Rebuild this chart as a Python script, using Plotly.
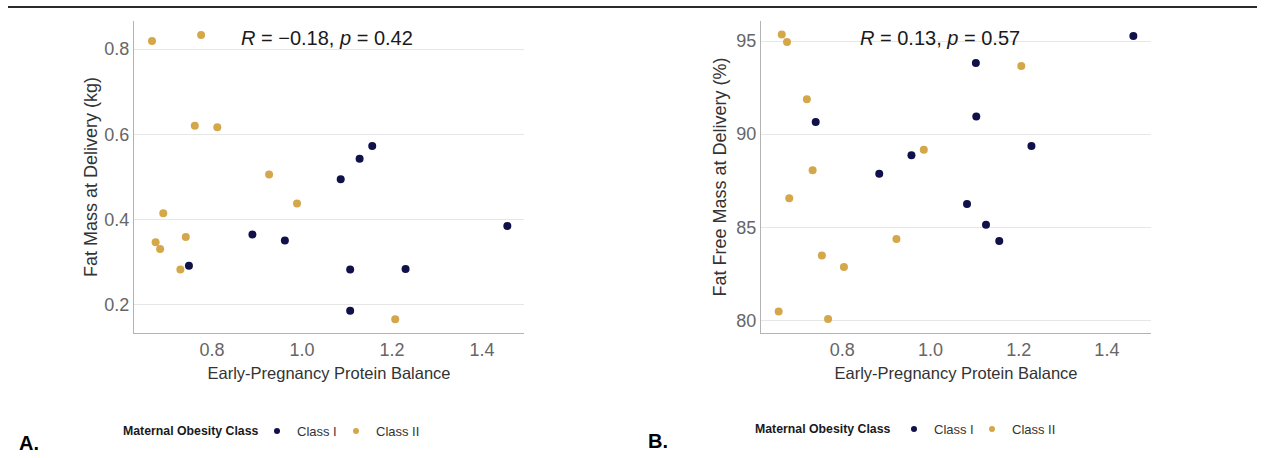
import plotly.graph_objects as go

# ---------------- data ----------------
# Panel A: Fat Mass at Delivery (kg)
a_class1_x = [1.086, 1.128, 1.156, 0.749, 0.890, 0.962, 1.107, 1.230, 1.107, 1.456]
a_class1_y = [0.495, 0.543, 0.573, 0.292, 0.365, 0.351, 0.283, 0.284, 0.186, 0.385]
a_class2_x = [0.667, 0.776, 0.762, 0.812, 0.927, 0.989, 0.692, 0.675, 0.685, 0.742, 0.730, 1.207]
a_class2_y = [0.819, 0.833, 0.620, 0.617, 0.506, 0.438, 0.415, 0.347, 0.331, 0.359, 0.283, 0.166]

# Panel B: Fat Free Mass at Delivery (%)
b_class1_x = [1.460, 1.103, 1.104, 0.740, 1.229, 0.957, 0.884, 1.083, 1.126, 1.156]
b_class1_y = [95.27, 93.83, 90.95, 90.65, 89.37, 88.87, 87.87, 86.25, 85.14, 84.26]
b_class2_x = [0.663, 0.675, 0.720, 0.733, 0.680, 0.985, 1.206, 0.923, 0.754, 0.804, 0.656, 0.768]
b_class2_y = [95.36, 94.95, 91.87, 88.06, 86.56, 89.16, 93.66, 84.37, 83.48, 82.87, 80.47, 80.07]

x_ticks = [0.8, 1.0, 1.2, 1.4]
x_tick_labels = ["0.8", "1.0", "1.2", "1.4"]
a_y_ticks = [0.2, 0.4, 0.6, 0.8]
a_y_tick_labels = ["0.2", "0.4", "0.6", "0.8"]
b_y_ticks = [80, 85, 90, 95]
b_y_tick_labels = ["80", "85", "90", "95"]

class_names = ["Class I", "Class II"]
legend_title = "Maternal Obesity Class"
a_stat = "<i>R</i> = \u22120.18, <i>p</i> = 0.42"
b_stat = "<i>R</i> = 0.13, <i>p</i> = 0.57"

# ---------------- style ----------------
NAVY = "#10104a"
GOLD = "#d4a84a"
FONT = "Liberation Sans, Arial, sans-serif"
W, H = 1264, 458

fig = go.Figure()

def add_panel(xs1, ys1, xs2, ys2, xa, ya, leg1, leg2):
    fig.add_trace(go.Scatter(x=xs1, y=ys1, mode="markers", xaxis=xa, yaxis=ya,
                             marker=dict(color=NAVY, size=8), showlegend=False,
                             name=class_names[0]))
    fig.add_trace(go.Scatter(x=xs2, y=ys2, mode="markers", xaxis=xa, yaxis=ya,
                             marker=dict(color=GOLD, size=8), showlegend=False,
                             name=class_names[1]))
    # legend entries (smaller legend symbols)
    fig.add_trace(go.Scatter(x=[None], y=[None], mode="markers", xaxis=xa, yaxis=ya,
                             marker=dict(color=NAVY, size=6), name=class_names[0],
                             legend=leg1, showlegend=True))
    fig.add_trace(go.Scatter(x=[None], y=[None], mode="markers", xaxis=xa, yaxis=ya,
                             marker=dict(color=GOLD, size=6), name=class_names[1],
                             legend=leg2, showlegend=True))

add_panel(a_class1_x, a_class1_y, a_class2_x, a_class2_y, "x", "y", "legend", "legend3")
add_panel(b_class1_x, b_class1_y, b_class2_x, b_class2_y, "x2", "y2", "legend2", "legend4")

ydom = [1 - 333 / H, 1 - 21 / H]
axis_common = dict(showline=True, linecolor="#b3b3b3", linewidth=1.2, ticks="",
                   zeroline=False, tickfont=dict(family=FONT, size=18, color="#666666"))

legend_common = dict(orientation="h", xanchor="left", yanchor="middle",
                     font=dict(family=FONT, size=13, color="#333333"),
                     bgcolor="rgba(0,0,0,0)")

fig.update_layout(
    width=W, height=H,
    margin=dict(l=0, r=0, t=0, b=0),
    paper_bgcolor="white", plot_bgcolor="white",
    font=dict(family=FONT, color="#333333"),
    xaxis=dict(domain=[134 / W, 524 / W], range=[0.627, 1.493], anchor="y",
               tickvals=x_ticks, ticktext=x_tick_labels, showgrid=False,
               title=dict(text="Early-Pregnancy Protein Balance",
                          font=dict(size=16.5, color="#333333"), standoff=8),
               **axis_common),
    yaxis=dict(domain=ydom, range=[0.134, 0.866], anchor="x",
               tickvals=a_y_ticks, ticktext=a_y_tick_labels,
               showgrid=True, gridcolor="#e6e6e6", gridwidth=1,
               title=dict(text="Fat Mass at Delivery (kg)",
                          font=dict(size=18, color="#333333"), standoff=1),
               **axis_common),
    xaxis2=dict(domain=[761 / W, 1151 / W], range=[0.616, 1.500], anchor="y2",
                tickvals=x_ticks, ticktext=x_tick_labels, showgrid=False,
                title=dict(text="Early-Pregnancy Protein Balance",
                           font=dict(size=16.5, color="#333333"), standoff=8),
                **axis_common),
    yaxis2=dict(domain=ydom, range=[79.32, 96.08], anchor="x2",
                tickvals=b_y_ticks, ticktext=b_y_tick_labels,
                showgrid=True, gridcolor="#e6e6e6", gridwidth=1,
                title=dict(text="Fat Free Mass at Delivery (%)",
                           font=dict(size=18, color="#333333"), standoff=4),
                **axis_common),
    legend=dict(x=257 / W, y=1 - 431 / H, **legend_common),
    legend3=dict(x=336 / W, y=1 - 431 / H, **legend_common),
    legend2=dict(x=894 / W, y=1 - 429 / H, **legend_common),
    legend4=dict(x=972 / W, y=1 - 429 / H, **legend_common),
    showlegend=True,
)

# legend titles
for lx, ly in [(121, 431), (753, 429)]:
    fig.add_annotation(x=lx / W, y=1 - ly / H, xref="paper", yref="paper",
                       text="<b>" + legend_title + "</b>", showarrow=False,
                       xanchor="left", yanchor="middle",
                       font=dict(family=FONT, size=12.3, color="#1a1a1a"))

fig.add_annotation(x=0.86, y=0.827, xref="x", yref="y", text=a_stat, showarrow=False,
                   xanchor="left", yanchor="middle",
                   font=dict(family=FONT, size=20, color="#1a1a1a"))
fig.add_annotation(x=0.836, y=95.15, xref="x2", yref="y2", text=b_stat, showarrow=False,
                   xanchor="left", yanchor="middle",
                   font=dict(family=FONT, size=20, color="#1a1a1a"))

fig.add_annotation(x=17 / W, y=1 - 443 / H, xref="paper", yref="paper", text="<b>A.</b>",
                   showarrow=False, xanchor="left", yanchor="middle",
                   font=dict(family=FONT, size=20, color="black"))
fig.add_annotation(x=646 / W, y=1 - 441 / H, xref="paper", yref="paper", text="<b>B.</b>",
                   showarrow=False, xanchor="left", yanchor="middle",
                   font=dict(family=FONT, size=20, color="black"))

fig.add_shape(type="line", xref="paper", yref="paper", x0=8 / W, x1=1257 / W,
              y0=1 - 7 / H, y1=1 - 7 / H, line=dict(color="#2b2b2b", width=2))

fig.write_html("out.html", config={"displayModeBar": False},
               post_script="document.body.style.margin='0px';document.body.style.overflow='hidden';")
